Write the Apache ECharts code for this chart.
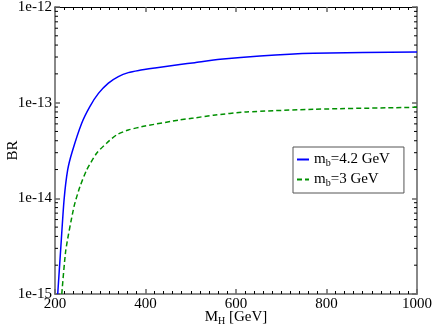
<!DOCTYPE html>
<html>
<head>
<meta charset="utf-8">
<script src="https://cdn.jsdelivr.net/npm/echarts@6/dist/echarts.min.js"></script>
<style>html,body{margin:0;padding:0;background:#fff}#c{width:436px;height:330px}</style>
</head>
<body>
<div id="c"></div>
<script>
// Data
const massBlue = [206, 212.5, 220, 228, 238, 259, 277, 296, 318, 340, 362, 385, 421, 476, 509, 565, 653, 771, 1000];
const brBlue = [1e-15, 2.9e-15, 9.6e-15, 1.98e-14, 3.07e-14, 6.1e-14, 9.1e-14, 1.25e-13, 1.6e-13, 1.87e-13, 2.06e-13, 2.17e-13, 2.3e-13, 2.5e-13, 2.62e-13, 2.84e-13, 3.08e-13, 3.28e-13, 3.39e-13];
const massGreen = [215, 224, 242, 255, 270, 292, 314, 336, 362, 399, 476, 506, 550, 623, 771, 1000];
const brGreen = [1e-15, 2.9e-15, 8.2e-15, 1.32e-14, 1.98e-14, 2.96e-14, 3.77e-14, 4.6e-14, 5.18e-14, 5.7e-14, 6.6e-14, 6.9e-14, 7.4e-14, 8.0e-14, 8.53e-14, 8.95e-14];
const seriesNames = ['mb=4.2 GeV', 'mb=3 GeV'];
const legendRich = {'mb=4.2 GeV': '{m|m}{s|b}{m|=4.2 GeV}', 'mb=3 GeV': '{m|m}{s|b}{m|=3 GeV}'};
const minorLogTicks = [2e-15,3e-15,4e-15,5e-15,6e-15,7e-15,8e-15,9e-15,2e-14,3e-14,4e-14,5e-14,6e-14,7e-14,8e-14,9e-14,2e-13,3e-13,4e-13,5e-13,6e-13,7e-13,8e-13,9e-13];
const xMin = 200, xMax = 1000, yMin = 1e-15, yMax = 1e-12;

const FONT = 'Liberation Serif';
const chart = echarts.init(document.getElementById('c'));
function zip(a, b) { return a.map((v, i) => [v, b[i]]); }
const subRich = { m: { fontFamily: FONT, fontSize: 15, color: '#000' }, s: { fontFamily: FONT, fontSize: 10, color: '#000', padding: [7, 0, 0, 0] } };

chart.setOption({
  animation: false,
  backgroundColor: '#fff',
  grid: { left: 55, top: 7, right: 19, bottom: 36, outerBoundsMode: 'none', containLabel: false },
  xAxis: [{
    type: 'value', min: xMin, max: xMax, interval: 200, position: 'bottom',
    axisLine: { lineStyle: { color: '#888', width: 2 } },
    axisTick: { show: true, inside: true, length: 5, lineStyle: { color: '#666', width: 1.5 } },
    minorTick: { show: true, splitNumber: 10, length: 3, lineStyle: { color: '#000', width: 1 } },
    splitLine: { show: false },
    axisLabel: { color: '#000', fontFamily: FONT, fontSize: 15, margin: 3, formatter: v => String(v) },
    name: '{m|M}{s|H}{m| [GeV]}', nameLocation: 'middle', nameGap: 15, nameMoveOverlap: false,
    nameTextStyle: { rich: subRich }
  }, {
    type: 'value', min: xMin, max: xMax, interval: 200, position: 'top',
    axisLine: { lineStyle: { color: '#000', width: 1 } },
    axisTick: { show: true, inside: true, length: 5, lineStyle: { color: '#666', width: 1.5 } },
    minorTick: { show: true, splitNumber: 10, length: 3, lineStyle: { color: '#000', width: 1 } },
    splitLine: { show: false }, axisLabel: { show: false }
  }],
  yAxis: [{
    type: 'log', logBase: 10, min: yMin, max: yMax, position: 'left',
    axisLine: { lineStyle: { color: '#888', width: 2 } },
    axisTick: { show: true, inside: true, length: 5, lineStyle: { color: '#666', width: 1.5 } },
    splitLine: { show: false },
    axisLabel: { color: '#000', fontFamily: FONT, fontSize: 15, margin: 3,
      formatter: v => { const e = Math.round(Math.log10(v)); return '1e' + e; } },
    name: 'BR', nameLocation: 'middle', nameGap: 34, nameRotate: 90, nameMoveOverlap: false,
    nameTextStyle: { fontFamily: FONT, fontSize: 15, color: '#000' }
  }, {
    type: 'log', logBase: 10, min: yMin, max: yMax, position: 'right',
    axisLine: { lineStyle: { color: '#888', width: 2 } },
    axisTick: { show: true, inside: true, length: 5, lineStyle: { color: '#666', width: 1.5 } },
    splitLine: { show: false }, axisLabel: { show: false }
  }],
  legend: {
    orient: 'vertical', left: 293, top: 147, padding: [5, 14, 5, 3], itemGap: 4,
    itemWidth: 12, itemHeight: 10, borderColor: '#555', borderWidth: 1, borderRadius: 0,
    data: seriesNames,
    itemStyle: { opacity: 0 },
    formatter: name => legendRich[name],
    textStyle: { rich: subRich }
  },
  series: [{
    name: seriesNames[0], type: 'line', data: zip(massBlue, brBlue), showSymbol: false, symbol: 'none',
    smooth: 0.2, lineStyle: { color: '#0000ff', width: 1.5 }, itemStyle: { color: '#0000ff' }
  }, {
    name: seriesNames[1], type: 'line', data: zip(massGreen, brGreen), showSymbol: false, symbol: 'none',
    smooth: 0.2, lineStyle: { color: '#009000', width: 1.5, type: [5, 3] }, itemStyle: { color: '#009000' }
  }, {
    type: 'custom', silent: true, clip: false, data: minorLogTicks.map(v => [xMin, v]),
    renderItem: (params, api) => {
      const l = api.coord([xMin, api.value(1)]);
      const r = api.coord([xMax, api.value(1)]);
      const st = { stroke: '#000', lineWidth: 1 };
      return { type: 'group', children: [
        { type: 'line', shape: { x1: l[0], y1: l[1], x2: l[0] + 3, y2: l[1] }, style: st },
        { type: 'line', shape: { x1: r[0], y1: r[1], x2: r[0] - 3, y2: r[1] }, style: st }
      ] };
    }
  }]
});
</script>
</body>
</html>
